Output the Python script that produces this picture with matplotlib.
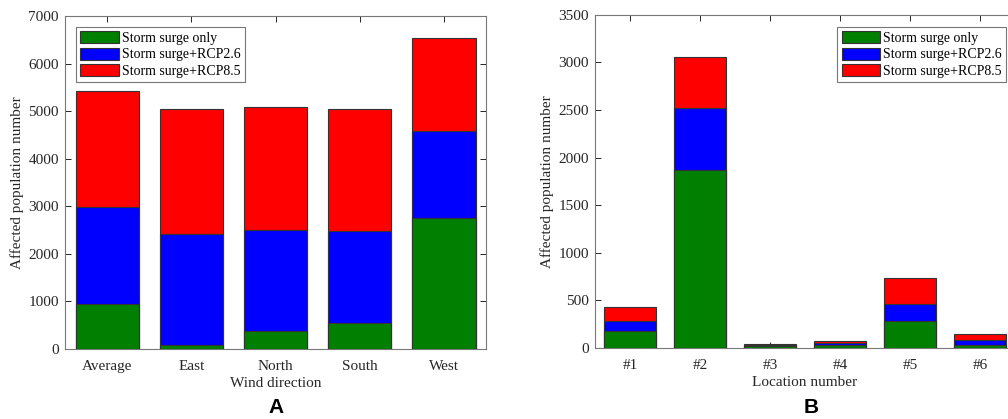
import matplotlib
matplotlib.use('Agg')
import matplotlib.pyplot as plt
import numpy as np

# Panel A: affected population by wind direction (cumulative scenario totals)
directions = ['Average', 'East', 'North', 'South', 'West']
surge_only_a = [950, 90, 385, 555, 2760]
rcp26_a = [2995, 2410, 2500, 2480, 4585]
rcp85_a = [5430, 5045, 5080, 5050, 6535]

# Panel B: affected population by location
locations = ['#1', '#2', '#3', '#4', '#5', '#6']
surge_only_b = [182, 1868, 20, 32, 287, 28]
rcp26_b = [284, 2524, 30, 55, 465, 87]
rcp85_b = [431, 3060, 40, 77, 731, 147]

labels = ['Storm surge only', 'Storm surge+RCP2.6', 'Storm surge+RCP8.5']
colors = ['#007f00', '#0000ff', '#ff0000']

plt.rcParams['font.family'] = 'Liberation Serif'
plt.rcParams['font.size'] = 11

fig = plt.figure(figsize=(10.08, 4.19), dpi=100)
ax_a = fig.add_axes([0.0645, 0.167, 0.4177, 0.795])
ax_b = fig.add_axes([0.5903, 0.1695, 0.4167, 0.795])


def stacked(ax, cats, series, ymax, ystep):
    x = np.arange(1, len(cats) + 1)
    handles = []
    # draw tallest first so the lower ones sit on top
    for vals, col, lab, z in zip(series[::-1], colors[::-1], labels[::-1], [2, 3, 4]):
        h = ax.bar(x, vals, width=0.75, color=col, edgecolor='#333333',
                   linewidth=0.8, label=lab, zorder=z)
        handles.append(h)
    ax.set_xlim(0.5, len(cats) + 0.5)
    ax.set_ylim(0, ymax)
    ax.set_xticks(x)
    ax.set_xticklabels(cats)
    ax.set_yticks(np.arange(0, ymax + 1, ystep))
    ax.tick_params(direction='in', top=True, right=True, length=4,
                   colors='#262626', labelsize=11, width=0.7)
    ax.tick_params(axis='x', pad=8)
    ax.tick_params(axis='y', pad=4.5)
    for sp in ax.spines.values():
        sp.set_color('#777777')
        sp.set_linewidth(0.8)
    ax.set_ylabel('Affected population number', color='#262626', labelpad=3)
    return handles[::-1]


leg_kw = dict(fontsize=10, fancybox=False, framealpha=1, edgecolor='#777777',
              handlelength=2.8, handleheight=0.95, handletextpad=0.2,
              labelspacing=0.2, borderpad=0.3, borderaxespad=0)

h_a = stacked(ax_a, directions, [surge_only_a, rcp26_a, rcp85_a], 7000, 1000)
ax_a.set_xlabel('Wind direction', color='#262626', labelpad=3)
leg = ax_a.legend(h_a, labels, loc='upper left', bbox_to_anchor=(0.0754, 0.9356),
                  bbox_transform=fig.transFigure, **leg_kw)
leg.get_frame().set_linewidth(0.8)

h_b = stacked(ax_b, locations, [surge_only_b, rcp26_b, rcp85_b], 3500, 500)
ax_b.set_xlabel('Location number', color='#262626', labelpad=3)
leg = ax_b.legend(h_b, labels, loc='upper right', bbox_to_anchor=(0.998, 0.9356),
                  bbox_transform=fig.transFigure, **leg_kw)
leg.get_frame().set_linewidth(0.8)

fig.text(0.274, 0.027, 'A', family='Liberation Sans', fontweight='bold', fontsize=15,
         ha='center', va='center')
fig.text(0.805, 0.027, 'B', family='Liberation Sans', fontweight='bold', fontsize=15,
         ha='center', va='center')

fig.savefig('out.png', dpi=100)
